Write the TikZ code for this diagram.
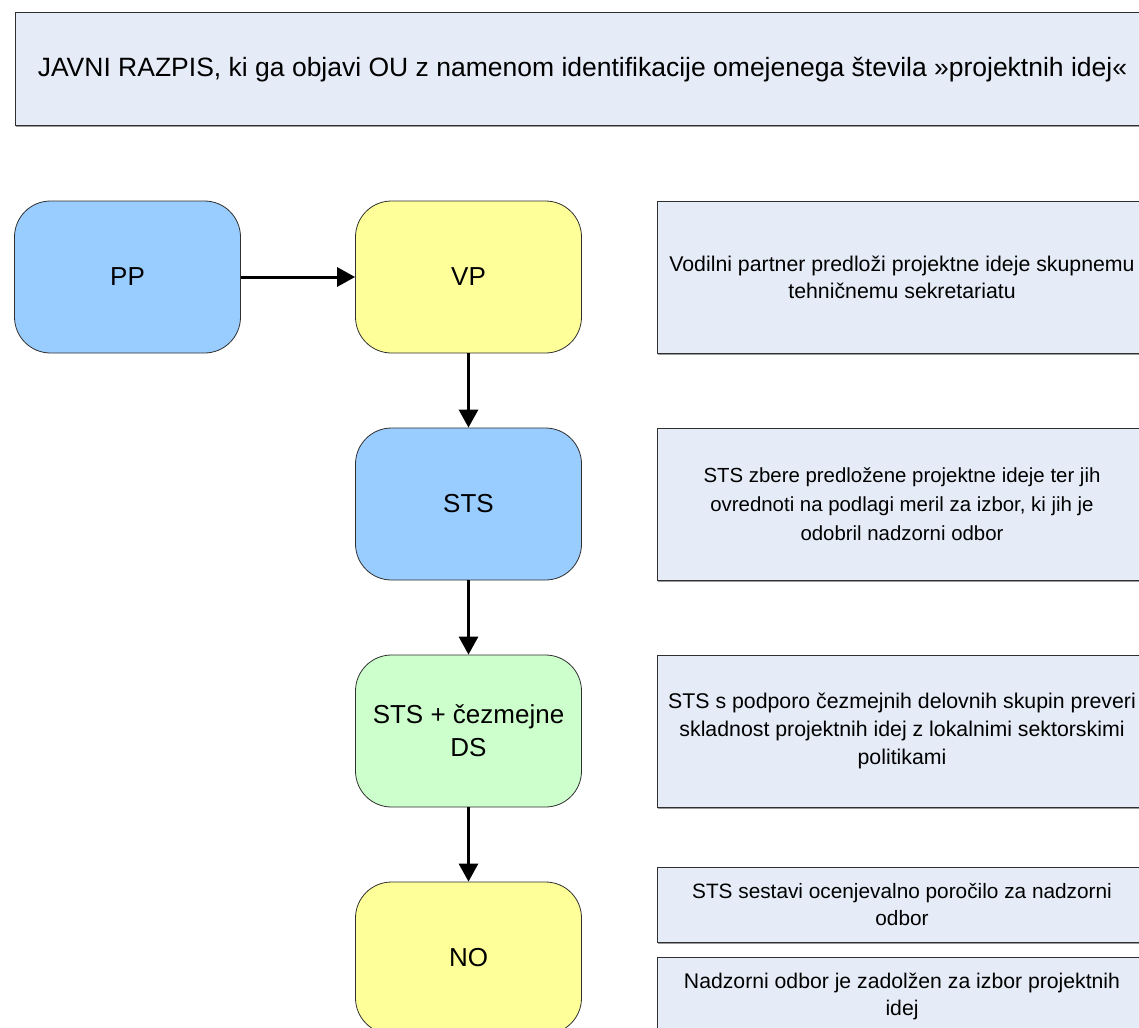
\documentclass[tikz,border=0pt]{standalone}
\usepackage{fontspec}
\setmainfont{Liberation Sans}
\usetikzlibrary{arrows.meta,shadows}
\definecolor{boxfill}{HTML}{E5ECF7}
\definecolor{bluefill}{HTML}{99CCFF}
\definecolor{yellowfill}{HTML}{FFFF99}
\definecolor{greenfill}{HTML}{CCFFCC}
\definecolor{edge}{HTML}{303030}
\tikzset{
  infobox/.style={draw=edge, line width=1pt, fill=boxfill, align=center,
    drop shadow={shadow xshift=1pt, shadow yshift=-1.5pt, fill=gray!80, opacity=1},
    font=\fontsize{21}{28}\selectfont, inner sep=0pt},
  actor/.style={draw=edge, line width=0.8pt, rounded corners=36pt, align=center,
    minimum width=226pt, minimum height=152pt, inner sep=0pt,
    font=\fontsize{26}{33}\selectfont},
  flow/.style={line width=3pt, -{Triangle[length=18pt, width=19pt]}}
}
\begin{document}
\begin{tikzpicture}[x=1pt, y=-1pt]
\useasboundingbox (0,0) rectangle (1139,1027);
\clip (0,0) rectangle (1139,1027);
\fill[white] (0,0) rectangle (1139,1027);

\node[infobox, minimum width=1135pt, minimum height=113pt, font=\fontsize{26.5}{32}\selectfont]
  (razpis) at (582.5,69.5) {JAVNI RAZPIS, ki ga objavi OU z namenom identifikacije omejenega števila »projektnih idej«};

\node[actor, fill=bluefill] (pp) at (127.5,277) {PP};
\node[actor, fill=yellowfill] (vp) at (468.5,277) {VP};
\node[actor, fill=bluefill] (sts) at (468.5,504) {STS};
\node[actor, fill=greenfill] (stsds) at (468.5,731) {STS + čezmejne\\DS};
\node[actor, fill=yellowfill] (no) at (468.5,958) {NO};

\node[infobox, minimum width=490pt, minimum height=152pt, font=\fontsize{21.3}{27}\selectfont] (d1) at (902,277)
  {Vodilni partner predloži projektne ideje skupnemu\\tehničnemu sekretariatu};
\node[infobox, minimum width=490pt, minimum height=152pt, font=\fontsize{20.4}{29}\selectfont] (d2) at (902,504)
  {STS zbere predložene projektne ideje ter jih\\ovrednoti na podlagi meril za izbor, ki jih je\\odobril nadzorni odbor};
\node[infobox, minimum width=490pt, minimum height=152pt, font=\fontsize{21.3}{28}\selectfont] (d3) at (902,731)
  {STS s podporo čezmejnih delovnih skupin preveri\\skladnost projektnih idej z lokalnimi sektorskimi\\politikami};
\node[infobox, minimum width=490pt, minimum height=75pt, font=\fontsize{20.8}{27}\selectfont] (d4) at (902,904.5)
  {STS sestavi ocenjevalno poročilo za nadzorni\\odbor};
\node[infobox, minimum width=490pt, minimum height=78pt, font=\fontsize{21.2}{27}\selectfont] (d5) at (902,996)
  {Nadzorni odbor je zadolžen za izbor projektnih\\idej};

\draw[flow] (pp) -- (vp);
\draw[flow] (vp) -- (sts);
\draw[flow] (sts) -- (stsds);
\draw[flow] (stsds) -- (no);
\end{tikzpicture}
\end{document}
